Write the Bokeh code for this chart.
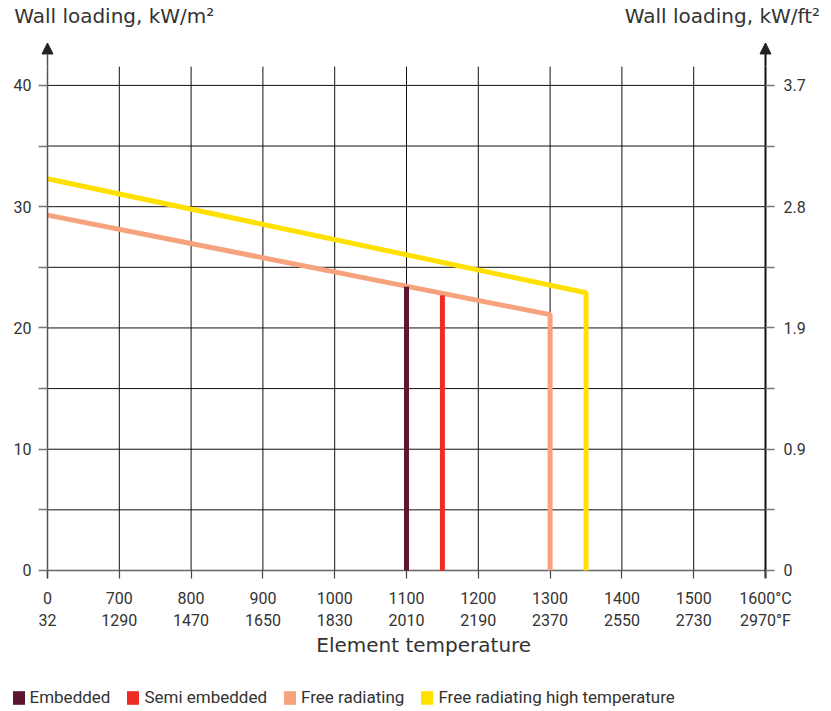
from bokeh.plotting import figure
from bokeh.models import (Range1d, LinearAxis, FixedTicker, Arrow, NormalHead,
                          Legend, LegendItem, ColumnDataSource)
from bokeh.embed import file_html
from bokeh.resources import INLINE

# ---- data ----
x_ticks = [600, 700, 800, 900, 1000, 1100, 1200, 1300, 1400, 1500, 1600]
celsius_labels = ["0", "700", "800", "900", "1000", "1100", "1200", "1300", "1400", "1500", "1600°C"]
fahrenheit_labels = ["32", "1290", "1470", "1650", "1830", "2010", "2190", "2370", "2550", "2730", "2970°F"]

y_ticks = [0, 5, 10, 15, 20, 25, 30, 35, 40]
y_left_labels = {0: "0", 10: "10", 20: "20", 30: "30", 40: "40"}
y_right_labels = {0: "0", 10: "0.9", 20: "1.9", 30: "2.8", 40: "3.7"}

series_names = ["Embedded", "Semi embedded", "Free radiating", "Free radiating high temperature"]
series_colors = ["#5e1530", "#ee2b24", "#f6a27d", "#ffe000"]

embedded_x = [1100, 1100]
embedded_y = [23.4, 0]
semi_x = [1150, 1150]
semi_y = [22.7, 0]
free_x = [600, 1300, 1300]
free_y = [29.3, 21.1, 0]
high_x = [600, 1350, 1350]
high_y = [32.3, 22.9, 0]

left_title = "Wall loading, kW/m²"
right_title = "Wall loading, kW/ft²"
x_title = "Element temperature"

# ---- layout constants ----
FIG_W = 823
MAIN_H = 680
LEGEND_H = 31
AXIS_LEFT_PX = 47          # page x of the left axis
DATA_W = 718               # px between left and right axes
TICK_PX = 9                # axis tick length (frame is padded by this much)
FRAME_TOP = 40
FRAME_H = 538
GRID_TOP = 41.55
Y_MIN, Y_MAX = -0.66, 43.62
ARROW_TIP = 43.5
LEFT_TITLE_AT = 693        # centre of the header texts, in axis units
RIGHT_TITLE_AT = 1540
X_TITLE_AT = 1124

TXT = "#333333"
FONT_NUM = "Roboto"
FONT_TITLE = "DejaVu Sans"

px = DATA_W / (x_ticks[-1] - x_ticks[0])
pad = TICK_PX / px
frame_left = AXIS_LEFT_PX - TICK_PX
frame_w = DATA_W + 2 * TICK_PX

p = figure(width=FIG_W, height=MAIN_H, output_backend="svg", toolbar_location=None,
           x_range=Range1d(x_ticks[0] - pad, x_ticks[-1] + pad), y_range=Range1d(Y_MIN, Y_MAX),
           min_border_left=frame_left, min_border_right=FIG_W - frame_left - frame_w,
           min_border_top=FRAME_TOP, min_border_bottom=MAIN_H - FRAME_TOP - FRAME_H,
           x_axis_type=None, y_axis_type=None)
p.outline_line_color = None
p.background_fill_color = "white"
p.border_fill_color = "white"
p.extra_y_ranges = {"right": Range1d(Y_MIN, Y_MAX)}

# header texts (labels of a tick-less axis above the plot)
top = LinearAxis(ticker=FixedTicker(ticks=[LEFT_TITLE_AT, RIGHT_TITLE_AT]))
top.major_label_overrides = {LEFT_TITLE_AT: left_title, RIGHT_TITLE_AT: right_title}
top.axis_line_color = None
top.major_tick_line_color = None
top.minor_tick_line_color = None
top.major_label_text_font = FONT_TITLE
top.major_label_text_font_size = "20px"
top.major_label_text_color = TXT
top.major_label_standoff = 8
p.add_layout(top, "above")

# x axis (two-line labels: °C and °F)
xaxis = LinearAxis(ticker=FixedTicker(ticks=x_ticks))
xaxis.major_label_overrides = {t: f"{c}\n{f}" for t, c, f in zip(x_ticks, celsius_labels, fahrenheit_labels)}
xaxis.axis_line_color = None
xaxis.major_tick_in = 8
xaxis.major_tick_out = 0
xaxis.major_tick_line_color = "#444444"
xaxis.major_tick_line_width = 1.2
xaxis.minor_tick_line_color = None
xaxis.major_label_text_font = FONT_NUM
xaxis.major_label_text_font_size = "16px"
xaxis.major_label_text_color = TXT
xaxis.major_label_text_line_height = 1.18
xaxis.major_label_standoff = 10
p.add_layout(xaxis, "below")

# x axis title
xt = LinearAxis(ticker=FixedTicker(ticks=[X_TITLE_AT]))
xt.major_label_overrides = {X_TITLE_AT: x_title}
xt.axis_line_color = None
xt.major_tick_line_color = None
xt.minor_tick_line_color = None
xt.major_label_text_font = FONT_TITLE
xt.major_label_text_font_size = "20px"
xt.major_label_text_color = TXT
xt.major_label_standoff = -6
p.add_layout(xt, "below")

# y axes: ticks point inwards from the padded frame edge to the axis line
def y_axis(range_name, labels, standoff):
    kw = {} if range_name is None else {"y_range_name": range_name}
    ax = LinearAxis(ticker=FixedTicker(ticks=y_ticks), **kw)
    ax.major_label_overrides = {t: labels.get(t, "") for t in y_ticks}
    ax.axis_line_color = None
    ax.major_tick_in = TICK_PX
    ax.major_tick_out = 0
    ax.major_tick_line_color = "#777777"
    ax.major_tick_line_width = 1.5
    ax.minor_tick_line_color = None
    ax.major_label_text_font = FONT_NUM
    ax.major_label_text_font_size = "16px"
    ax.major_label_text_color = TXT
    ax.major_label_standoff = standoff
    return ax

p.add_layout(y_axis(None, y_left_labels, 7), "left")
p.add_layout(y_axis("right", y_right_labels, 9), "right")

# grid lines from the tick arrays
inner_x = x_ticks[1:-1]
p.segment(x0=inner_x, y0=[0] * len(inner_x), x1=inner_x, y1=[GRID_TOP] * len(inner_x),
          line_color="#111111", line_width=1)
inner_y = [t for t in y_ticks if t != 0]
p.segment(x0=[x_ticks[0]] * len(inner_y), y0=inner_y, x1=[x_ticks[-1]] * len(inner_y), y1=inner_y,
          line_color="#111111", line_width=1)
p.segment(x0=[x_ticks[0]], y0=[0], x1=[x_ticks[-1]], y1=[0], line_color="#666666", line_width=1.5)

# data lines
LW = 5
p.line(high_x, high_y, line_color=series_colors[3], line_width=LW)
p.line(free_x, free_y, line_color=series_colors[2], line_width=LW)
p.line(embedded_x, embedded_y, line_color=series_colors[0], line_width=LW)
p.line(semi_x, semi_y, line_color=series_colors[1], line_width=LW)

# axis lines with arrow heads
for ax_x, col, lw in [(x_ticks[0], "#555555", 1.5), (x_ticks[-1], "#111111", 2)]:
    p.segment(x0=[ax_x], y0=[Y_MIN], x1=[ax_x], y1=[GRID_TOP], line_color=col, line_width=lw)
    p.add_layout(Arrow(end=NormalHead(size=11, fill_color="#222222", line_color="#222222", line_width=1),
                       x_start=ax_x, y_start=GRID_TOP, x_end=ax_x, y_end=ARROW_TIP,
                       line_color=col, line_width=lw))

# ---------------- legend strip (separate root below the chart) ----------------
lg = figure(width=FIG_W, height=LEGEND_H, output_backend="svg", toolbar_location=None,
            x_range=Range1d(0, 1), y_range=Range1d(0, 1),
            min_border=0, x_axis_type=None, y_axis_type=None)
lg.outline_line_color = None
lg.background_fill_color = "white"
lg.border_fill_color = "white"
nan = float("nan")
swatch = ColumnDataSource(data=dict(l=[nan], r=[nan], b=[nan], t=[nan]))
items = []
for name, col in zip(series_names, series_colors):
    r = lg.quad(left="l", right="r", bottom="b", top="t", source=swatch, fill_color=col, line_color=None)
    items.append(LegendItem(label=name, renderers=[r]))
legend = Legend(items=items, orientation="horizontal", location=(10.5, 4),
                glyph_width=15, glyph_height=17, label_standoff=4, spacing=15,
                padding=0, margin=0, border_line_color=None, background_fill_alpha=0,
                label_text_font=FONT_NUM, label_text_font_size="17px", label_text_color=TXT,
                label_height=20)
lg.add_layout(legend, "center")

open("out.html", "w").write(file_html([p, lg], INLINE))
